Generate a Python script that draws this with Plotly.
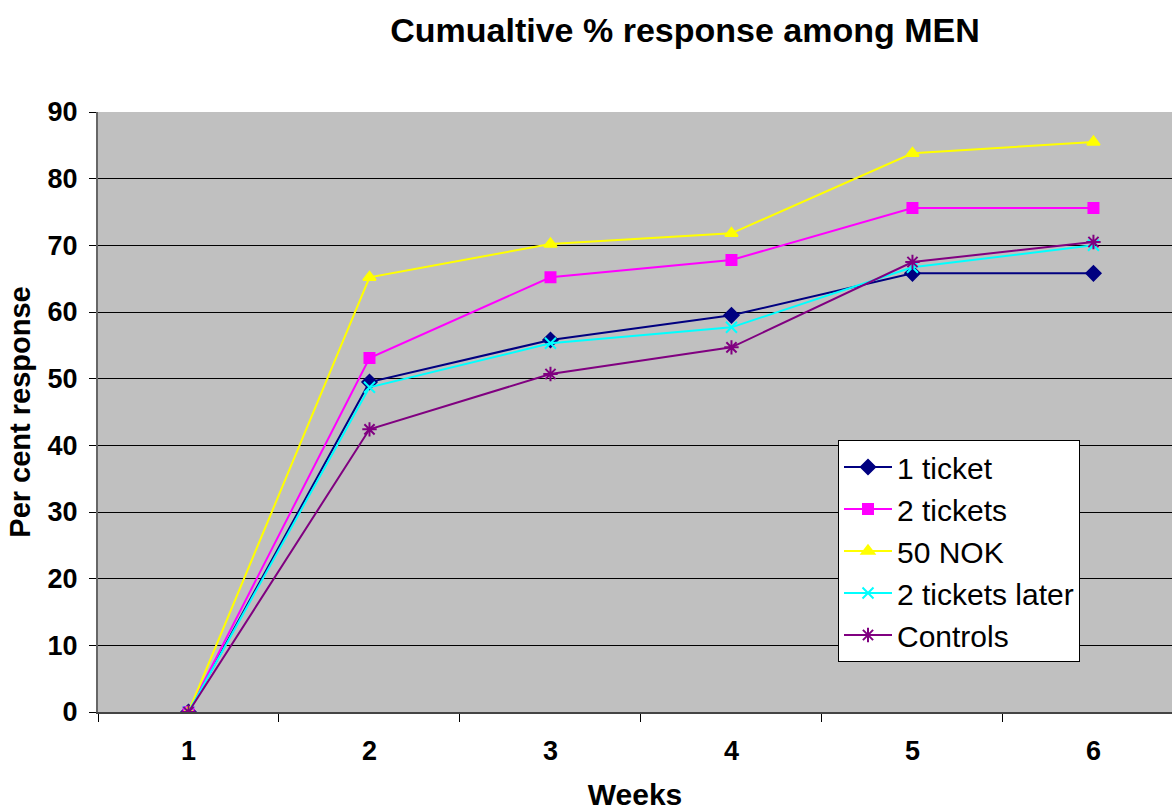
import plotly.graph_objects as go

weeks = ["1", "2", "3", "4", "5", "6"]
one_ticket = [0, 49.5, 55.8, 59.5, 65.8, 65.8]
two_tickets = [0, 53.1, 65.2, 67.8, 75.6, 75.6]
nok50 = [0, 65.2, 70.2, 71.8, 83.8, 85.5]
two_tickets_later = [0, 48.7, 55.3, 57.7, 66.7, 70.0]
controls = [0, 42.4, 50.7, 54.7, 67.5, 70.5]

series = [
    ("1 ticket", one_ticket, "#000080", "diamond", 11),
    ("2 tickets", two_tickets, "#FF00FF", "square", 10),
    ("50 NOK", nok50, "#FFFF00", "triangle-up", 11),
    ("2 tickets later", two_tickets_later, "#00FFFF", "x-thin-open", 11),
    ("Controls", controls, "#800080", "asterisk-open", 12),
]

fig = go.Figure()
for name, vals, col, sym, sz in series:
    fig.add_trace(go.Scatter(
        x=weeks, y=vals, name=name, mode="lines+markers",
        line=dict(color=col, width=2),
        marker=dict(symbol=sym, size=sz, color=col, line=dict(color=col, width=2)),
    ))

font_family = "Liberation Sans, Arial, sans-serif"
fig.update_layout(
    width=1172, height=811,
    margin=dict(l=98, r=0, t=112, b=99),
    paper_bgcolor="white", plot_bgcolor="#C0C0C0",
    font=dict(family=font_family, color="black"),
    title=dict(text="<b>Cumualtive % response among MEN</b>", x=685/1172, xref="container",
               xanchor="center", y=1 - 30/811, yref="container", yanchor="middle",
               font=dict(size=34, family=font_family)),
    legend=dict(x=(838-98)/1074, xref="paper", y=1 - (440-112)/600, yanchor="top", xanchor="left",
                bgcolor="white", bordercolor="black", borderwidth=1,
                font=dict(size=30, family=font_family), itemwidth=48, tracegroupgap=0),
    showlegend=True,
)

fig.update_xaxes(
    type="category", range=[-0.5, 5.434], tickson="boundaries",
    ticks="outside", ticklen=8, tickcolor="black", showgrid=False,
    showline=True, linecolor="#444", linewidth=2,
    tickfont=dict(size=27, family=font_family), ticklabelstandoff=14,
    title=dict(text="<b>Weeks</b>", font=dict(size=30, family=font_family), standoff=21),
    tickprefix="<b>", ticksuffix="</b>", zeroline=False,
)
fig.update_yaxes(
    range=[0, 90], dtick=10, tick0=0, ticks="outside", ticklen=7, tickcolor="black",
    showgrid=True, gridcolor="black", gridwidth=1,
    showline=True, linecolor="#666", linewidth=2, zeroline=False,
    tickfont=dict(size=27, family=font_family), tickprefix="<b>", ticksuffix="</b>",
    ticklabelstandoff=6,
    title=dict(text="<b>Per cent response</b>", font=dict(size=29, family=font_family), standoff=8),
)

fig.write_html("out.html", config={"displayModeBar": False},
               post_script="document.body.style.margin='0';document.body.style.overflow='hidden';")
